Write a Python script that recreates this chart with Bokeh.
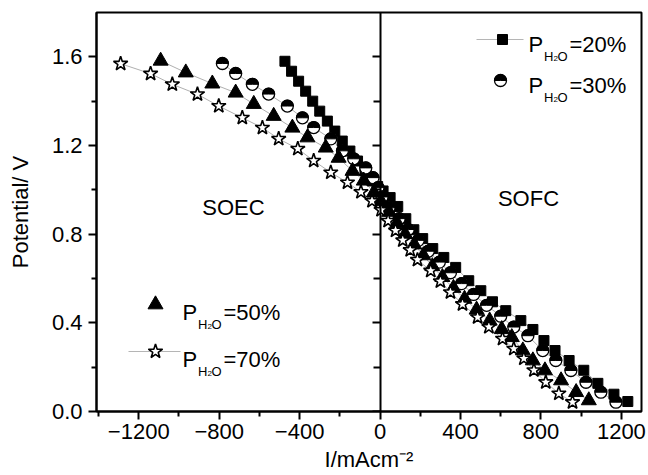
import numpy as np
from bokeh.plotting import figure
from bokeh.models import Range1d, FixedTicker, LinearAxis, Label, CustomJSTickFormatter
from bokeh.embed import file_html
from bokeh.resources import INLINE

FONT = "Liberation Sans"

# ---------------- data (current density mA/cm2, potential V) ----------------
i_20 = [-473, -440, -405, -370, -335, -300, -262, -225, -188, -150, -112, -75, -40, -12,
        15, 50, 88, 128, 168, 212, 262, 317, 376, 441, 501, 559, 625, 700, 760, 815, 870,
        940, 1013, 1083, 1163, 1232]
v_20 = [1.58, 1.535, 1.49, 1.445, 1.40, 1.355, 1.31, 1.265, 1.22, 1.175, 1.13, 1.085, 1.04, 1.015,
        0.995, 0.965, 0.925, 0.87, 0.82, 0.78, 0.735, 0.695, 0.65, 0.59, 0.545, 0.495, 0.455, 0.41,
        0.37, 0.32, 0.275, 0.23, 0.186, 0.127, 0.078, 0.045]

i_30 = [-784, -718, -635, -554, -461, -386, -330, -245, -187, -131, -71, -35, -10,
        10, 45, 95, 140, 190, 240, 295, 350, 405, 465, 530, 600, 665, 735, 809, 874, 949,
        1024, 1098, 1173]
v_30 = [1.57, 1.525, 1.476, 1.432, 1.378, 1.325, 1.281, 1.23, 1.176, 1.14, 1.099, 1.055, 1.01,
        0.968, 0.919, 0.87, 0.821, 0.772, 0.723, 0.674, 0.626, 0.577, 0.528, 0.479, 0.43, 0.381,
        0.342, 0.275, 0.23, 0.185, 0.132, 0.087, 0.042]

i_50 = [-1091, -966, -834, -718, -628, -529, -436, -361, -270, -206, -137, -81, -31,
        5, 45, 85, 125, 170, 215, 260, 310, 365, 420, 480, 545, 605, 655, 710, 760, 820,
        900, 975, 1038]
v_50 = [1.582, 1.529, 1.479, 1.438, 1.387, 1.333, 1.28, 1.236, 1.19, 1.144, 1.085, 1.041, 0.987,
        0.948, 0.90, 0.85, 0.80, 0.753, 0.704, 0.655, 0.606, 0.557, 0.508, 0.459, 0.41, 0.371,
        0.335, 0.275, 0.23, 0.185, 0.14, 0.087, 0.05]

i_70 = [-1290, -1141, -1033, -908, -802, -685, -585, -504, -409, -330, -245, -162, -95, -40,
        5, 40, 77, 113, 150, 186, 252, 300, 350, 410, 485, 541, 609, 665, 715, 765, 824, 889, 957]
v_70 = [1.569, 1.524, 1.476, 1.431, 1.378, 1.325, 1.28, 1.23, 1.185, 1.131, 1.078, 1.033, 0.99, 0.95,
        0.909, 0.86, 0.816, 0.772, 0.728, 0.684, 0.635, 0.587, 0.538, 0.484, 0.425, 0.381, 0.328,
        0.283, 0.239, 0.186, 0.132, 0.081, 0.042]

x_major = [-1200, -800, -400, 0, 400, 800, 1200]
x_minor = [-1400, -1000, -600, -200, 200, 600, 1000]
y_major = [0.0, 0.4, 0.8, 1.2, 1.6]
y_minor = [0.2, 0.6, 1.0, 1.4]

legend_pct = ["20%", "30%", "50%", "70%"]

# ---------------- layout ----------------
W, H = 648, 475
FL, FR, FT, FB = 96, 7, 12, 64
X0, X1 = -1410, 1300
Y0, Y1 = 0.0, 1.8

p = figure(width=W, height=H, x_range=Range1d(X0, X1), y_range=Range1d(Y0, Y1),
           output_backend="svg", toolbar_location=None,
           min_border_left=FL, min_border_right=FR, min_border_top=FT, min_border_bottom=FB)
p.background_fill_color = "white"
p.border_fill_color = "white"
p.outline_line_color = "black"
p.outline_line_width = 2
p.xgrid.visible = False
p.ygrid.visible = False

def style_axis(ax, minor_out=5):
    ax.axis_line_width = 2
    ax.axis_line_color = "black"
    ax.major_tick_line_width = 2
    ax.minor_tick_line_width = 2
    ax.major_tick_out = 8
    ax.major_tick_in = 0
    ax.minor_tick_out = minor_out
    ax.minor_tick_in = 0
    ax.major_label_text_font = FONT
    ax.major_label_text_font_size = "22px"
    ax.major_label_text_color = "black"
    ax.major_label_standoff = 6

p.xaxis.ticker = FixedTicker(ticks=x_major, minor_ticks=x_minor)
p.yaxis.ticker = FixedTicker(ticks=y_major, minor_ticks=y_minor)
p.yaxis.formatter = CustomJSTickFormatter(code="return tick.toFixed(1)")
for ax in (p.xaxis[0], p.yaxis[0]):
    style_axis(ax)
    ax.axis_label_text_font = FONT
    ax.axis_label_text_font_size = "22px"
    ax.axis_label_text_font_style = "normal"
    ax.axis_label_text_color = "black"
p.xaxis.major_label_standoff = 4
p.yaxis.axis_label = "Potential/ V"
p.yaxis.axis_label_standoff = 16
p.xaxis.axis_label = "I/mAcm\u207b\u00b2"
p.xaxis.axis_label_standoff = 5

# vertical axis at I = 0
zax = LinearAxis(fixed_location=0, ticker=FixedTicker(ticks=y_major, minor_ticks=y_minor),
                 formatter=CustomJSTickFormatter(code="return ''"))
style_axis(zax, minor_out=7)
zax.major_label_text_font_size = "0px"
p.add_layout(zax, "left")

# ---------------- series ----------------
LINE = "#9a9a9a"
for xs, ys in ((i_20, v_20), (i_30, v_30), (i_50, v_50), (i_70, v_70)):
    p.line(xs, ys, line_color=LINE, line_width=0.8)

p.scatter(i_20, v_20, marker="square", size=10, fill_color="black", line_color="black")
p.scatter(i_30, v_30, marker="circle", size=12, fill_color="white", line_color="black", line_width=1.3)
p.wedge(i_30, v_30, radius=6, radius_units="screen", start_angle=0, end_angle=np.pi,
        fill_color="black", line_color="black", line_width=1.0)
p.scatter(i_50, v_50, marker="triangle", size=15, fill_color="black", line_color="black")
p.scatter(i_70, v_70, marker="star", size=15, fill_color="white", line_color="black", line_width=1.6)

# ---------------- helpers for annotation placement (canvas px) ----------------
FW, FH = W - FL - FR, H - FB - FT
def dx(cx):
    return X0 + (cx - FL) / FW * (X1 - X0)
def dy(cy):
    return Y0 + ((H - FB) - cy) / FH * (Y1 - Y0)
def put(text, cx, cy, size, align="left", baseline="alphabetic"):
    p.add_layout(Label(x=cx - FL, y=(H - FB) - cy, x_units="screen", y_units="screen",
                       text=text, text_font=FONT, text_font_size=size, text_color="black",
                       text_align=align, text_baseline=baseline))

def legend_text(x0, yb, pct):
    put("P", x0, yb, "22px")
    put("H", x0 + 15.5, yb + 12, "13px")
    put("2", x0 + 25, yb + 14, "8px")
    put("O", x0 + 29, yb + 12, "13px")
    put("=" + pct, x0 + 41, yb, "22px")

# legend top-right
p.line([dx(476), dx(523)], [dy(39), dy(39)], line_color="#b5b5b5", line_width=1)
p.scatter([dx(502)], [dy(39)], marker="square", size=10, fill_color="black", line_color="black")
legend_text(528, 44, legend_pct[0])
p.scatter([dx(500)], [dy(80)], marker="circle", size=12, fill_color="white", line_color="black", line_width=1.3)
p.wedge([dx(500)], [dy(80)], radius=6, radius_units="screen", start_angle=0, end_angle=np.pi,
        fill_color="black", line_color="black", line_width=1.0)
legend_text(528, 85, legend_pct[1])

# legend bottom-left
p.scatter([dx(155)], [dy(304)], marker="triangle", size=15, fill_color="black", line_color="black")
legend_text(182, 312, legend_pct[2])
p.line([dx(128), dx(180)], [dy(351), dy(351)], line_color="#b5b5b5", line_width=1)
p.scatter([dx(155)], [dy(351)], marker="star", size=15, fill_color="white", line_color="black", line_width=1.6)
legend_text(182, 359, legend_pct[3])

# region labels
put("SOEC", 233, 207, "22px", align="center", baseline="middle")
put("SOFC", 528, 198, "22px", align="center", baseline="middle")

open("out.html", "w").write(file_html(p, INLINE))
